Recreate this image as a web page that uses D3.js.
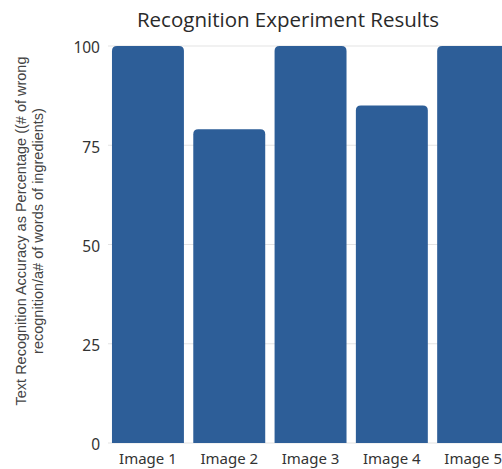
<!DOCTYPE html>
<html>
<head>
<meta charset="utf-8">
<script src="https://cdn.jsdelivr.net/npm/d3@7"></script>
<style>
  body { margin: 0; background: #fff; }
  svg { display: block; }
</style>
</head>
<body>
<svg></svg>
<script>
const categories = ["Image 1", "Image 2", "Image 3", "Image 4", "Image 5"];
const accuracy = [100, 79, 100, 85, 100];
const yTicks = [0, 25, 50, 75, 100];

const width = 502, height = 469;
const svg = d3.select("svg").attr("width", width).attr("height", height);

const x = d3.scaleBand()
    .domain(categories)
    .range([107.3, 513.8])
    .paddingInner(0.115)
    .paddingOuter(0.0575);

const y = d3.scaleLinear()
    .domain([0, 100])
    .range([443, 46]);

// gridlines
svg.append("g")
   .selectAll("line")
   .data(yTicks)
   .enter()
   .append("line")
   .attr("x1", 108)
   .attr("x2", width)
   .attr("y1", d => y(d))
   .attr("y2", d => y(d))
   .attr("stroke", "#e3e3e3")
   .attr("stroke-width", 1);

// bars with rounded top corners
const r = 5;
svg.selectAll(".bar")
   .data(categories.map((c, i) => ({ c, v: accuracy[i] })))
   .enter()
   .append("path")
   .attr("class", "bar")
   .attr("fill", "#2d5e98")
   .attr("d", d => {
       const x0 = x(d.c), x1 = x0 + x.bandwidth();
       const y0 = y(0), y1 = y(d.v);
       return `M${x0},${y0}V${y1 + r}Q${x0},${y1} ${x0 + r},${y1}H${x1 - r}Q${x1},${y1} ${x1},${y1 + r}V${y0}Z`;
   });

// y tick labels
svg.append("g")
   .selectAll("text")
   .data(yTicks)
   .enter()
   .append("text")
   .attr("x", 100)
   .attr("y", d => y(d) + 2)
   .attr("dy", "0.35em")
   .attr("text-anchor", "end")
   .style("font-family", "'Noto Sans', sans-serif")
   .style("font-size", "15.5px")
   .style("fill", "#333")
   .text(d => d);

// x tick labels
svg.append("g")
   .selectAll("text")
   .data(categories)
   .enter()
   .append("text")
   .attr("x", d => x(d) + x.bandwidth() / 2)
   .attr("y", 464)
   .attr("text-anchor", "middle")
   .style("font-family", "'Noto Sans', sans-serif")
   .style("font-size", "15px")
   .style("fill", "#333")
   .text(d => d);

// y axis title (two lines)
const yTitle = svg.append("text")
   .attr("transform", "translate(26,231) rotate(-90)")
   .attr("text-anchor", "middle")
   .style("font-family", "'Liberation Sans', Arial, sans-serif")
   .style("font-size", "14.5px")
   .style("fill", "#444");
yTitle.append("tspan").attr("x", 0).attr("dy", 0)
   .text("Text Recognition Accuracy as Percentage ((# of wrong");
yTitle.append("tspan").attr("x", 0).attr("dy", 17)
   .text("recognition/a# of words of ingredients)");

// title
svg.append("text")
   .attr("x", 288)
   .attr("y", 27)
   .attr("text-anchor", "middle")
   .style("font-family", "'Open Sans', sans-serif")
   .style("font-size", "20.5px")
   .style("fill", "#2a2a2a")
   .text("Recognition Experiment Results");
</script>
</body>
</html>
